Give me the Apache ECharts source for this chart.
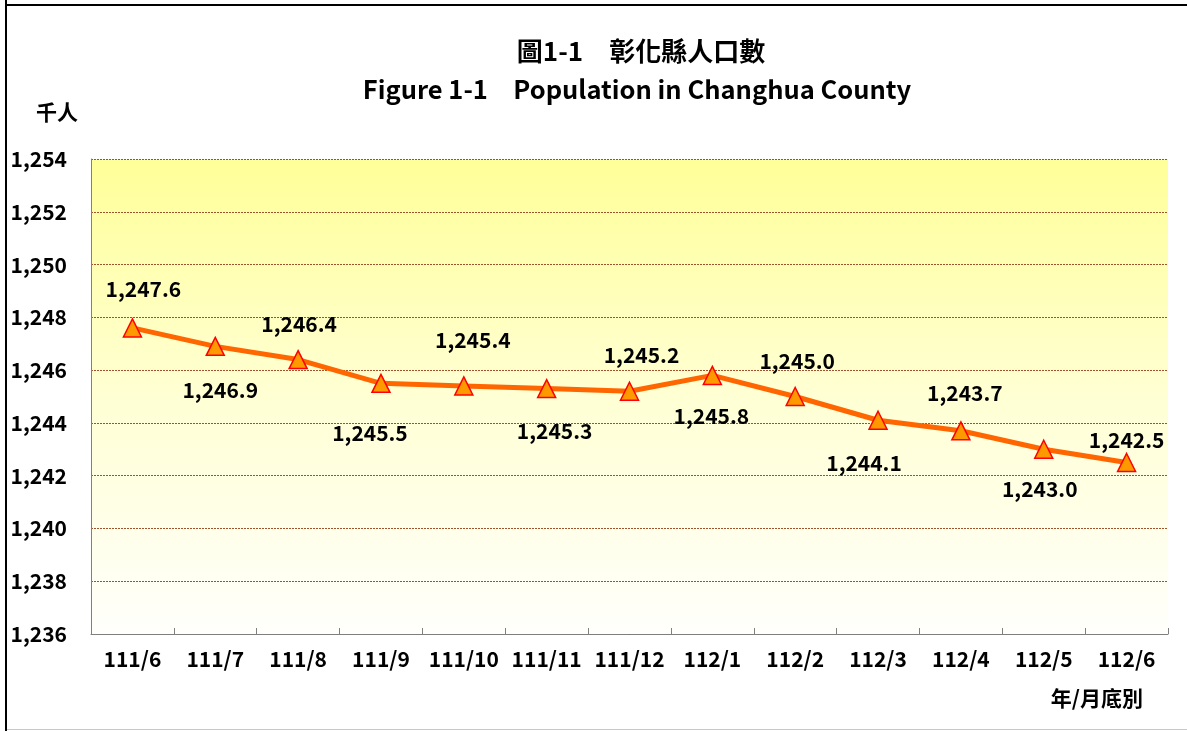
<!DOCTYPE html>
<html><head><meta charset="utf-8">
<script src="https://cdn.jsdelivr.net/npm/echarts@6/dist/echarts.min.js"></script>
<style>html,body{margin:0;padding:0;background:#fff}#c{width:1187px;height:731px}</style>
</head><body><div id="c"></div>
<script>
const categories = ['111/6','111/7','111/8','111/9','111/10','111/11','111/12','112/1','112/2','112/3','112/4','112/5','112/6'];
const population = [1247.6,1246.9,1246.4,1245.5,1245.4,1245.3,1245.2,1245.8,1245.0,1244.1,1243.7,1243.0,1242.5];
const yMin = 1236, yMax = 1254, yStep = 2;
// label offsets (style only): [dx, dy] from point
const labelOffsets = [[11,-39],[5,44],[1,-36],[-11,50],[9,-46],[8,42],[12,-36],[-1,41],[2,-35],[-14,43],[4,-38],[-4,40],[0,-22]];

const FONT = '"Noto Sans CJK TC","Noto Sans CJK SC",sans-serif';
const chart = echarts.init(document.getElementById('c'));
chart.setOption({
  animation: false,
  backgroundColor: '#fff',
  textStyle: {fontFamily: FONT},
  title: [{
    text: '圖1-1　彰化縣人口數',
    left: 636, top: 33, textAlign: 'center',
    textStyle: {fontFamily: FONT, fontSize: 26, fontWeight: 'bold', color: '#000'}
  },{
    text: 'Figure 1-1　Population in Changhua County',
    left: 632, top: 72, textAlign: 'center',
    textStyle: {fontFamily: FONT, fontSize: 25.5, fontWeight: 'bold', color: '#000'}
  }],
  grid: {
    left: 91, right: 19, top: 159, bottom: 97, show: true, borderWidth: 0,
    backgroundColor: new echarts.graphic.LinearGradient(0,0,0,1,[
      {offset:0,color:'#FFFF99'},{offset:0.5,color:'#FFFFD4'},{offset:1,color:'#FFFFFC'}])
  },
  graphic: [
    {type:'line', shape:{x1:6,y1:0,x2:6,y2:731}, style:{stroke:'#000',lineWidth:2}},
    {type:'line', shape:{x1:5,y1:5,x2:1187,y2:5}, style:{stroke:'#000',lineWidth:2}},
    {type:'line', shape:{x1:7,y1:729.5,x2:1187,y2:729.5}, style:{stroke:'#c8c8c8',lineWidth:1}}
  ],
  xAxis: {
    type: 'category', data: categories, boundaryGap: true,
    name: '年/月底別', nameLocation: 'end',
    nameGap: 0,
    nameTextStyle: {fontFamily: FONT, fontSize: 21, fontWeight: 'bold', color: '#000',
      align: 'right', verticalAlign: 'top', padding: [54, 25, 0, 0]},
    axisLine: {lineStyle: {color: '#808080', width: 1}},
    axisTick: {show: true, alignWithLabel: false, length: 6, inside: true, lineStyle: {color: '#808080'}},
    axisLabel: {fontFamily: FONT, fontSize: 21, fontWeight: 'bold', color: '#000', margin: 15, interval: 0},
    splitLine: {show: false}
  },
  yAxis: {
    type: 'value', min: yMin, max: yMax, interval: yStep,
    name: '千人', nameLocation: 'end', nameGap: 36,
    nameTextStyle: {fontFamily: FONT, fontSize: 21, fontWeight: 'bold', color: '#000', align: 'center', padding: [0, 0, 0, -68]},
    axisLine: {show: true, lineStyle: {color: '#808080', width: 1}},
    axisTick: {show: false},
    axisLabel: {fontFamily: FONT, fontSize: 21, fontWeight: 'bold', color: '#000', margin: 24,
      formatter: v => v.toLocaleString('en-US')},
    splitLine: {show: true, lineStyle: {color: '#A0522D', type: [2, 1], width: 1}}
  },
  series: [{
    type: 'line',
    data: population.map((v, i) => ({
      value: v,
      label: {offset: labelOffsets[i]}
    })),
    symbol: 'triangle', symbolSize: 18,
    lineStyle: {color: '#FF6600', width: 5},
    itemStyle: {color: '#FF9900', borderColor: '#FF0000', borderWidth: 1.5},
    label: {
      show: true, position: 'inside',
      fontFamily: FONT, fontSize: 21, fontWeight: 'bold', color: '#000',
      formatter: p => p.value.toLocaleString('en-US', {minimumFractionDigits: 1, maximumFractionDigits: 1})
    },
    z: 3
  }]
});
</script></body></html>
